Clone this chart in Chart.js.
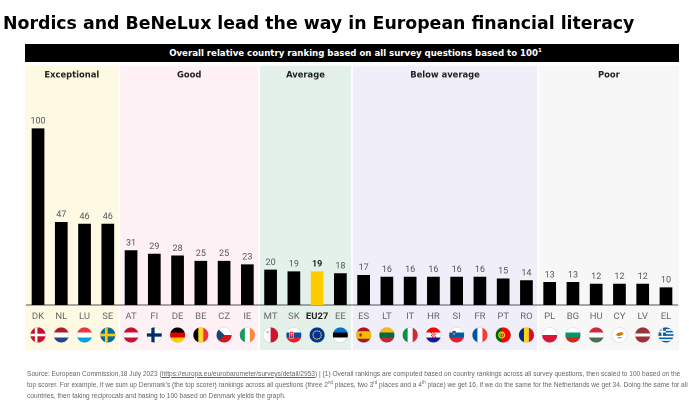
<!DOCTYPE html>
<html><head><meta charset="utf-8">
<script src="https://cdn.jsdelivr.net/npm/chart.js@4.4.1/dist/chart.umd.min.js"></script>
<style>
html,body{margin:0;padding:0;background:#fff;width:689px;height:408px;overflow:hidden;}
#wrap{position:relative;width:689px;height:408px;}
#c{position:absolute;left:0;top:0;}
#title{position:absolute;left:3px;top:13px;font:700 17.35px 'DejaVu Sans',sans-serif;line-height:20px;color:#000;white-space:nowrap;}
#hdr{position:absolute;left:25px;top:44px;width:647px;padding-left:7px;height:18px;background:#000;color:#fff;font:700 8.6px 'DejaVu Sans',sans-serif;text-align:center;line-height:18px;white-space:nowrap;}
#hdr sup{font-size:5.5px;line-height:0;vertical-align:4px;}
#src{position:absolute;left:27px;top:368px;font:7.4px 'Liberation Sans',sans-serif;color:#666;line-height:11px;white-space:nowrap;transform:scaleX(0.893);transform-origin:0 0;}
#src sup{font-size:5px;line-height:0;vertical-align:3px;}
#src .u{text-decoration:underline;}
</style></head>
<body><div id="wrap">
<canvas id="c" width="689" height="408"></canvas>
<div id="title">Nordics and BeNeLux lead the way in European financial literacy</div>
<div id="hdr">Overall relative country ranking based on all survey questions based to 100<sup>1</sup></div>
<div id="src">Source: European Commission,18 July 2023 (<span class="u">https://europa.eu/eurobarometer/surveys/detail/2953</span>) | (1) Overall rankings are computed based on country rankings across all survey questions, then scaled to 100 based on the<br>top scorer. For example, if we sum up Denmark's (the top scorer) rankings across all questions (three 2<sup>nd</sup> places, two 3<sup>rd</sup> places and a 4<sup>th</sup> place) we get 16, if we do the same for the Netherlands we get 34. Doing the same for all<br>countries, then taking reciprocals and basing to 100 based on Denmark yields the graph.</div>
</div>
<script>
const countries = ['DK','NL','LU','SE','AT','FI','DE','BE','CZ','IE','MT','SK','EU27','EE','ES','LT','IT','HR','SI','FR','PT','RO','PL','BG','HU','CY','LV','EL'];
const scores = [100,47,46,46,31,29,28,25,25,23,20,19,19,18,17,16,16,16,16,16,15,14,13,13,12,12,12,10];
const groupNames = ['Exceptional','Good','Average','Below average','Poor'];
const groupSizes = [4,6,4,8,6];
const highlightCountry = 'EU27';

const groupColors = ['#FEF9E3','#FDF1F5','#E3F1EA','#F0EEF9','#F7F7F7'];
const BAR = '#000000', HIGHLIGHT = '#FFCC00';

function drawFlag(ctx, code, cx, cy, r){
  const x=cx-r, y=cy-r, s=2*r;
  ctx.save();
  ctx.beginPath(); ctx.arc(cx,cy,r,0,Math.PI*2); ctx.clip();
  const rect=(c,a,b,w,h)=>{ctx.fillStyle=c;ctx.fillRect(a,b,w,h);};
  const H=(cols,w)=>{w=w||cols.map(()=>1);const t=w.reduce((a,b)=>a+b,0);let yy=y;cols.forEach((c,i)=>{const hh=s*w[i]/t;rect(c,x,yy,s,hh+0.4);yy+=hh;});};
  const V=(cols,w)=>{w=w||cols.map(()=>1);const t=w.reduce((a,b)=>a+b,0);let xx=x;cols.forEach((c,i)=>{const ww=s*w[i]/t;rect(c,xx,y,ww+0.4,s);xx+=ww;});};
  const dot=(c,a,b,rr)=>{ctx.fillStyle=c;ctx.beginPath();ctx.arc(a,b,rr,0,Math.PI*2);ctx.fill();};
  switch(code){
    case 'DK': rect('#C8102E',x,y,s,s); rect('#fff',x,cy-r*0.17,s,r*0.34); rect('#fff',cx-r*0.42,y,r*0.34,s); break;
    case 'NL': H(['#AE1C28','#fff','#21468B']); break;
    case 'LU': H(['#EF3340','#fff','#00A3E0']); break;
    case 'SE': rect('#006AA7',x,y,s,s); rect('#FECC00',x,cy-r*0.18,s,r*0.36); rect('#FECC00',cx-r*0.38,y,r*0.36,s); break;
    case 'AT': H(['#C8102E','#fff','#C8102E']); break;
    case 'FI': rect('#fff',x,y,s,s); rect('#002F6C',x,cy-r*0.22,s,r*0.44); rect('#002F6C',cx-r*0.4,y,r*0.44,s); break;
    case 'DE': H(['#000','#DD0000','#FFCE00']); break;
    case 'BE': V(['#000','#FDDA24','#EF3340']); break;
    case 'CZ': H(['#fff','#D7141A']); ctx.fillStyle='#11457E'; ctx.beginPath(); ctx.moveTo(x,y); ctx.lineTo(cx+r*0.05,cy); ctx.lineTo(x,y+s); ctx.closePath(); ctx.fill(); break;
    case 'IE': V(['#169B62','#fff','#FF883E']); break;
    case 'MT': V(['#fff','#CF142B']); rect('#bbb',x+r*0.45,y+r*0.45,r*0.3,r*0.3); break;
    case 'SK': H(['#fff','#0B4EA2','#EE1C25']);
      ctx.fillStyle='#fff'; ctx.fillRect(cx-r*0.62,cy-r*0.5,r*0.62,r*0.95);
      ctx.fillStyle='#EE1C25'; ctx.fillRect(cx-r*0.55,cy-r*0.43,r*0.48,r*0.8);
      rect('#fff',cx-r*0.34,cy-r*0.35,r*0.08,r*0.55); rect('#fff',cx-r*0.47,cy-r*0.2,r*0.34,r*0.08);
      rect('#0B4EA2',cx-r*0.55,cy+r*0.2,r*0.48,r*0.17); break;
    case 'EU27': rect('#003399',x,y,s,s);
      for(let i=0;i<12;i++){const a=i*Math.PI/6; dot('#FFCC00',cx+Math.cos(a)*r*0.55,cy+Math.sin(a)*r*0.55,r*0.1);} break;
    case 'EE': H(['#0072CE','#000','#fff']); break;
    case 'ES': H(['#AA151B','#F1BF00','#AA151B'],[1,2,1]); rect('#AD1519',cx-r*0.55,cy-r*0.2,r*0.3,r*0.4); break;
    case 'LT': H(['#FDB913','#006A44','#C1272D']); break;
    case 'IT': V(['#009246','#fff','#CE2B37']); break;
    case 'HR': H(['#FF0000','#fff','#171796']);
      for(let i=0;i<4;i++)for(let j=0;j<4;j++){rect((i+j)%2?'#fff':'#FF0000',cx-r*0.32+i*r*0.16,cy-r*0.35+j*r*0.17,r*0.16,r*0.17);} break;
    case 'SI': H(['#fff','#005DA4','#ED1C24']);
      rect('#ED1C24',cx-r*0.58,cy-r*0.55,r*0.46,r*0.6); rect('#005DA4',cx-r*0.53,cy-r*0.5,r*0.36,r*0.5); rect('#fff',cx-r*0.45,cy-r*0.2,r*0.2,r*0.12); break;
    case 'FR': V(['#0055A4','#fff','#EF4135']); break;
    case 'PT': V(['#006600','#FF0000'],[2,3]); ctx.strokeStyle='#FFE000'; ctx.lineWidth=r*0.16; ctx.beginPath(); ctx.arc(x+s*0.4,cy,r*0.38,0,Math.PI*2); ctx.stroke(); rect('#fff',x+s*0.4-r*0.16,cy-r*0.2,r*0.32,r*0.36); rect('#FF0000',x+s*0.4-r*0.1,cy-r*0.14,r*0.2,r*0.24); break;
    case 'RO': V(['#002B7F','#FCD116','#CE1126']); break;
    case 'PL': H(['#fff','#DC143C']); break;
    case 'BG': H(['#fff','#00966E','#D62612']); break;
    case 'HU': H(['#CE2939','#fff','#477050']); break;
    case 'CY': rect('#fff',x,y,s,s); ctx.fillStyle='#D57800'; ctx.beginPath(); ctx.ellipse(cx+r*0.05,cy-r*0.12,r*0.5,r*0.22,-0.25,0,Math.PI*2); ctx.fill();
      ctx.strokeStyle='#4E5B31'; ctx.lineWidth=r*0.1; ctx.beginPath(); ctx.arc(cx,cy+r*0.05,r*0.35,Math.PI*0.25,Math.PI*0.75); ctx.stroke(); break;
    case 'LV': H(['#9E3039','#fff','#9E3039'],[2,1,2]); break;
    case 'EL': { const cols=[]; for(let i=0;i<9;i++) cols.push(i%2?'#fff':'#0D5EAF'); H(cols);
      const ch=s*5/9, cw=s*0.5; rect('#0D5EAF',x,y,cw,ch); rect('#fff',x,y+s*2/9,cw,s/9); rect('#fff',x+cw/2-s/18,y,s/9,ch); } break;
  }
  ctx.restore();
  ctx.beginPath(); ctx.arc(cx,cy,r,0,Math.PI*2); ctx.strokeStyle='rgba(0,0,0,0.13)'; ctx.lineWidth=0.6; ctx.stroke();
}

const panelsPlugin = {
  id:'panels',
  beforeDraw(chart){
    const {ctx, scales:{x}} = chart;
    const step = x.getPixelForValue(1)-x.getPixelForValue(0);
    const top = 65.7, bottom = chart.chartArea.bottom + 45;
    let idx = 0;
    ctx.save();
    groupSizes.forEach((n,g)=>{
      let l = x.getPixelForValue(idx) - step/2 + 0.8;
      let rr = x.getPixelForValue(idx+n-1) + step/2 - 0.8;
      if(g===0) l -= 2.2;
      if(g===groupSizes.length-1) rr += 2.2;
      ctx.fillStyle = groupColors[g];
      ctx.fillRect(l, top, rr-l, bottom-top);
      ctx.fillStyle = '#222';
      ctx.font = '700 8.4px "DejaVu Sans", sans-serif';
      ctx.textAlign = 'center'; ctx.textBaseline = 'alphabetic';
      ctx.fillText(groupNames[g], (l+rr)/2, 77.5);
      idx += n;
    });
    ctx.restore();
  }
};

const labelsPlugin = {
  id:'vlabels',
  afterDatasetsDraw(chart){
    const {ctx} = chart;
    const meta = chart.getDatasetMeta(0);
    ctx.save();
    ctx.textAlign='center'; ctx.textBaseline='bottom';
    meta.data.forEach((bar,i)=>{
      const hl = countries[i]===highlightCountry;
      ctx.font = (hl?'700 ':'400 ')+'9px Roboto, sans-serif';
      ctx.fillStyle = hl ? '#222' : '#555';
      ctx.fillText(String(scores[i]), bar.x, bar.y - 2.5);
    });
    ctx.restore();
  },
  afterDraw(chart){
    const {ctx, scales:{x}} = chart;
    const cy = chart.chartArea.bottom + 30;
    countries.forEach((c,i)=> drawFlag(ctx, c, x.getPixelForValue(i), cy, 7.5));
  }
};

new Chart(document.getElementById('c'), {
  type:'bar',
  data:{ labels: countries, datasets:[{ data: scores,
    backgroundColor: countries.map(c=> c===highlightCountry ? HIGHLIGHT : BAR),
    barPercentage:0.546, categoryPercentage:1, borderWidth:0 }]},
  options:{
    responsive:false, animation:false, devicePixelRatio:2,
    layout:{padding:{left:26.4,right:11.4,top:128.3,bottom:58}},
    plugins:{legend:{display:false},tooltip:{enabled:false}},
    scales:{
      x:{ grid:{display:false,drawTicks:false}, border:{display:true,color:'#555',width:1},
          ticks:{autoSkip:false,maxRotation:0,minRotation:0,padding:6,
            color:(c)=> countries[c.index]===highlightCountry ? '#222' : '#666',
            font:(c)=> ({family:'Roboto, sans-serif', size:9.5, weight: countries[c.index]===highlightCountry ? '700':'400'})},
          afterFit:(s)=>{ s.height = 45; } },
      y:{ display:false, min:0, max:100 }
    }
  },
  plugins:[panelsPlugin, labelsPlugin]
});
</script>
</body></html>
